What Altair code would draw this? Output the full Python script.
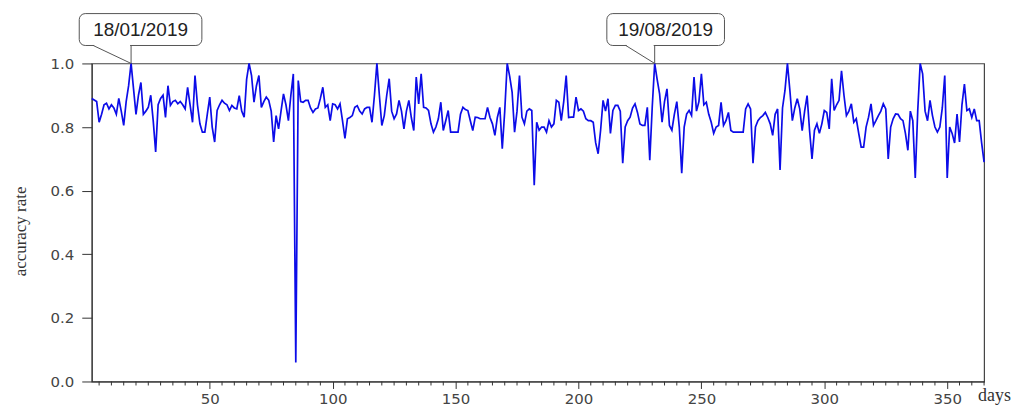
import altair as alt
import pandas as pd

# accuracy rate per day, days 2..365
rate_values = [
    0.89, 0.885, 0.88, 0.815, 0.84, 0.87, 0.875, 0.857, 0.87, 0.86,
    0.84, 0.89, 0.85, 0.805, 0.88, 0.93, 1.0, 0.92, 0.84, 0.90,
    0.94, 0.84, 0.85, 0.862, 0.90, 0.82, 0.722, 0.87, 0.89, 0.90,
    0.83, 0.93, 0.868, 0.88, 0.884, 0.873, 0.88, 0.87, 0.857, 0.925,
    0.87, 0.815, 0.962, 0.87, 0.81, 0.784, 0.784, 0.84, 0.894, 0.80,
    0.753, 0.852, 0.87, 0.884, 0.875, 0.87, 0.852, 0.868, 0.86, 0.857,
    0.899, 0.85, 0.831, 0.95, 1.0, 0.962, 0.878, 0.93, 0.962, 0.862,
    0.88, 0.894, 0.884, 0.85, 0.753, 0.836, 0.794, 0.85, 0.904, 0.87,
    0.82, 0.90, 0.967, 0.06, 0.946, 0.88, 0.878, 0.884, 0.884, 0.86,
    0.846, 0.857, 0.86, 0.89, 0.925, 0.862, 0.87, 0.82, 0.873, 0.87,
    0.857, 0.873, 0.82, 0.764, 0.826, 0.83, 0.836, 0.862, 0.867, 0.85,
    0.841, 0.857, 0.862, 0.862, 0.815, 0.90, 1.0, 0.90, 0.805, 0.836,
    0.90, 0.952, 0.85, 0.826, 0.841, 0.884, 0.85, 0.794, 0.85, 0.884,
    0.83, 0.789, 0.957, 0.873, 0.967, 0.862, 0.86, 0.852, 0.81, 0.784,
    0.80, 0.826, 0.878, 0.789, 0.82, 0.852, 0.784, 0.784, 0.784, 0.784,
    0.84, 0.862, 0.855, 0.852, 0.82, 0.789, 0.831, 0.83, 0.826, 0.826,
    0.826, 0.862, 0.83, 0.81, 0.774, 0.83, 0.862, 0.732, 0.85, 1.0,
    0.96, 0.91, 0.784, 0.85, 0.962, 0.831, 0.81, 0.85, 0.857, 0.852,
    0.617, 0.815, 0.79, 0.80, 0.80, 0.784, 0.82, 0.80, 0.81, 0.884,
    0.878, 0.82, 0.88, 0.962, 0.83, 0.831, 0.831, 0.894, 0.852, 0.857,
    0.85, 0.826, 0.82, 0.82, 0.815, 0.75, 0.716, 0.79, 0.884, 0.85,
    0.889, 0.78, 0.852, 0.868, 0.868, 0.85, 0.686, 0.80, 0.82, 0.831,
    0.86, 0.873, 0.846, 0.81, 0.805, 0.805, 0.862, 0.696, 0.862, 1.0,
    0.95, 0.904, 0.815, 0.88, 0.92, 0.805, 0.79, 0.84, 0.88, 0.80,
    0.655, 0.80, 0.841, 0.852, 0.836, 0.957, 0.85, 0.88, 0.967, 0.87,
    0.878, 0.84, 0.815, 0.78, 0.80, 0.805, 0.878, 0.805, 0.82, 0.846,
    0.789, 0.784, 0.784, 0.784, 0.784, 0.784, 0.857, 0.873, 0.857, 0.686,
    0.80, 0.82, 0.83, 0.836, 0.846, 0.83, 0.81, 0.774, 0.84, 0.857,
    0.665, 0.86, 0.915, 1.0, 0.915, 0.82, 0.86, 0.889, 0.857, 0.789,
    0.85, 0.899, 0.789, 0.70, 0.79, 0.81, 0.78, 0.81, 0.852, 0.846,
    0.794, 0.952, 0.852, 0.87, 0.884, 0.977, 0.90, 0.836, 0.85, 0.873,
    0.815, 0.826, 0.78, 0.737, 0.737, 0.80, 0.831, 0.873, 0.805, 0.82,
    0.836, 0.85, 0.873, 0.857, 0.70, 0.80, 0.826, 0.841, 0.84, 0.826,
    0.82, 0.78, 0.727, 0.85, 0.82, 0.64, 0.85, 1.0, 0.967, 0.85,
    0.82, 0.884, 0.836, 0.80, 0.784, 0.80, 0.86, 0.962, 0.64, 0.80,
    0.78, 0.75, 0.841, 0.753, 0.87, 0.935, 0.852, 0.857, 0.83, 0.857,
    0.82, 0.82, 0.75, 0.69,
]
first_day = 2
days = list(range(first_day, first_day + len(rate_values)))

x_major_ticks = [50, 100, 150, 200, 250, 300, 350]
x_minor_ticks = [v for v in range(5, 366, 5) if v % 50 != 0]
y_ticks = [0.0, 0.2, 0.4, 0.6, 0.8, 1.0]

ann_days = [18, 231]
ann_rates = [1.0, 1.0]
ann_labels = ["18/01/2019", "19/08/2019"]
# box geometry per annotation (pixel offsets from the marked point)
ann_geom = [
    dict(left=-52, right=71, top=-50, bottom=-18, foot=-38, tx=9.5),
    dict(left=-48, right=70, top=-50, bottom=-18, foot=-29, tx=11),
]

df = pd.DataFrame({"day": days, "rate": rate_values})

xscale = alt.Scale(domain=[2, 365], nice=False, zero=False)
yscale = alt.Scale(domain=[0, 1], nice=False)

line = alt.Chart(df).mark_line(color="#0c0ce8", strokeWidth=1.7).encode(
    x=alt.X(
        "day:Q",
        scale=xscale,
        axis=alt.Axis(
            values=x_major_ticks,
            labelOverlap=False,
            labelFlush=False,
            grid=False,
            tickSize=7,
            tickColor="#333",
            domainColor="#333",
            labelFont="DejaVu Sans",
            labelFontSize=15,
            labelColor="#444",
            labelPadding=3,
            title="days",
            titleFont="Liberation Serif",
            titleFontSize=18,
            titleFontWeight="normal",
            titleColor="#333",
            titleX=905,
            titleY=19,
            titleAlign="center",
            titleBaseline="alphabetic",
        ),
    ),
    y=alt.Y(
        "rate:Q",
        scale=yscale,
        axis=alt.Axis(
            values=y_ticks,
            format=".1f",
            grid=False,
            tickSize=10,
            tickColor="#333",
            domainColor="#333",
            labelFont="DejaVu Sans",
            labelFontSize=15,
            labelColor="#444",
            labelPadding=8,
            title="accuracy rate",
            titleFont="Liberation Serif",
            titleFontSize=17,
            titleFontWeight="normal",
            titleColor="#333",
            titleX=-71,
            titleY=168,
            titleAngle=270,
            titleAlign="center",
            titleBaseline="middle",
        ),
    ),
)

minor_df = pd.DataFrame({"day": x_minor_ticks, "rate": [0.0] * len(x_minor_ticks)})
minor = alt.Chart(minor_df).mark_rule(
    color="#333", strokeWidth=1, y2Offset=4
).encode(x="day:Q", y="rate:Q", y2="rate:Q")

layers = [line, minor]
for d, r, lab, g in zip(ann_days, ann_rates, ann_labels, ann_geom):
    adf = pd.DataFrame({"day": [d], "rate": [r], "label": [lab]})
    base = alt.Chart(adf)
    box = base.mark_rect(
        fill="white", stroke="#555", strokeWidth=1, cornerRadius=6,
        xOffset=g["left"], x2Offset=g["right"], yOffset=g["top"], y2Offset=g["bottom"],
    ).encode(x="day:Q", x2="day:Q", y="rate:Q", y2="rate:Q")
    gap = base.mark_rule(
        color="white", strokeWidth=2.5,
        xOffset=g["foot"] + 1, x2Offset=-1, yOffset=g["bottom"], y2Offset=g["bottom"],
    ).encode(x="day:Q", x2="day:Q", y="rate:Q", y2="rate:Q")
    slant = base.mark_rule(
        color="#555", strokeWidth=1,
        xOffset=g["foot"], yOffset=g["bottom"], x2Offset=0, y2Offset=0,
    ).encode(x="day:Q", x2="day:Q", y="rate:Q", y2="rate:Q")
    vert = base.mark_rule(
        color="#555", strokeWidth=1,
        xOffset=0, yOffset=g["bottom"], x2Offset=0, y2Offset=0,
    ).encode(x="day:Q", x2="day:Q", y="rate:Q", y2="rate:Q")
    txt = base.mark_text(
        font="Liberation Sans", fontSize=19, color="#222",
        align="center", baseline="middle",
        dx=g["tx"], dy=(g["top"] + g["bottom"]) / 2,
    ).encode(x="day:Q", y="rate:Q", text="label:N")
    layers += [box, gap, slant, vert, txt]

chart = alt.layer(*layers).properties(
    width=895,
    height=319,
    autosize=alt.AutoSizeParams(type="none"),
    padding={"left": 84, "top": 55, "right": 30, "bottom": 28},
    background="white",
).configure_view(stroke="#444", strokeWidth=1.2)

chart.save("out.html", embed_options={"renderer": "svg", "actions": False})
